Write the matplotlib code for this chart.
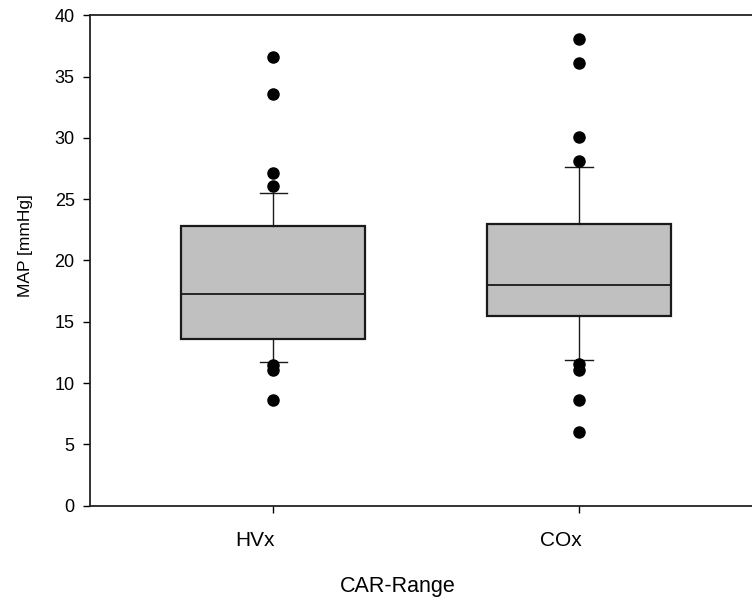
import numpy as np
import matplotlib
matplotlib.use('Agg')
import matplotlib.pyplot as plt
import matplotlib.transforms as mtransforms

plt.rcParams['font.family'] = ['Liberation Sans', 'DejaVu Sans']

# %%
groups = ['HVx', 'COx']
q1 = [13.6, 15.5]
med = [17.3, 18.0]
q3 = [22.8, 23.0]
whislo = [11.75, 11.9]
whishi = [25.5, 27.6]
fliers = [
    [36.6, 33.6, 27.1, 26.1, 11.5, 11.05, 8.6],
    [38.05, 36.1, 30.1, 28.1, 11.55, 11.1, 8.6, 6.05],
]
xlabel = 'CAR-Range'
ylabel = 'MAP [mmHg]'

# %%
stats = [dict(label=g, q1=a, med=m, q3=b, whislo=lo, whishi=hi, fliers=f)
         for g, a, m, b, lo, hi, f in zip(groups, q1, med, q3, whislo, whishi, fliers)]

fig = plt.figure(figsize=(7.52, 6.03), dpi=100)
ax = fig.add_axes([90/752, 1-505.7/603, 1-90/752, (505.7-15.3)/603])

positions = np.arange(1, len(groups)+1)
ax.bxp(stats, positions=positions, widths=0.602, capwidths=0.09, patch_artist=True,
       boxprops=dict(facecolor='#c0c0c0', edgecolor='#1a1a1a', linewidth=1.6),
       medianprops=dict(color='#1a1a1a', linewidth=1.3),
       whiskerprops=dict(color='#1a1a1a', linewidth=1.0),
       capprops=dict(color='#1a1a1a', linewidth=1.0),
       flierprops=dict(marker='o', markerfacecolor='black', markeredgecolor='black',
                       markersize=8, linestyle='none'))

ax.set_xlim(0.4004, 2.566)
ax.set_ylim(0, 40)
ax.set_yticks(np.arange(0, 41, 5))
ax.set_xticks(positions)
ax.set_xticklabels(groups)
ax.spines['right'].set_visible(False)
for s in ['left', 'bottom', 'top']:
    ax.spines[s].set_linewidth(1.3)
    ax.spines[s].set_color('#222222')
ax.tick_params(axis='y', direction='out', length=5, width=1, labelsize=13, pad=6)
ax.tick_params(axis='x', direction='out', length=5, width=1, labelsize=15, pad=13)

# shift the category labels slightly left, as in the original
offset = mtransforms.ScaledTranslation(-18/100, 0, fig.dpi_scale_trans)
for lbl in ax.get_xticklabels():
    lbl.set_transform(lbl.get_transform() + offset)

ax.set_xlabel(xlabel, fontsize=15.5)
ax.xaxis.set_label_coords((398-90)/662, (505.7-576)/490.4)
ax.set_ylabel(ylabel, fontsize=12.5)
ax.yaxis.set_label_coords((33-90)/662, (505.7-246)/490.4)

fig.savefig('out.png', dpi=100)
